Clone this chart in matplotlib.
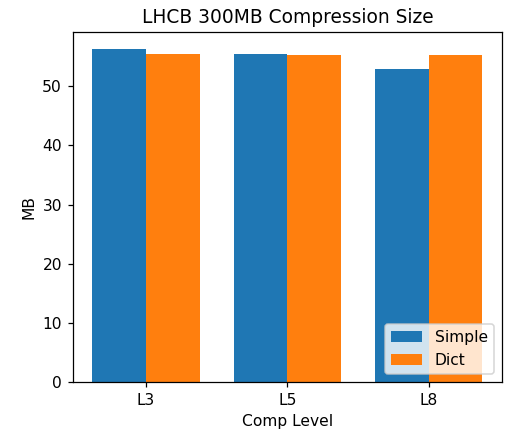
import matplotlib
matplotlib.use("Agg")
import matplotlib.pyplot as plt
import numpy as np

levels = ["L3", "L5", "L8"]
simple = [56.4, 55.4, 52.9]
dictv = [55.4, 55.25, 55.25]

dpi = 112
fig = plt.figure(figsize=(506/dpi, 431/dpi), dpi=dpi)
ax = fig.add_axes([0.144, 0.114, 0.848, 0.812])
x = np.arange(len(levels))
w = 0.38
ax.bar(x - w/2, simple, w, label="Simple", color="#1f77b4")
ax.bar(x + w/2, dictv, w, label="Dict", color="#ff7f0e")
ax.set_xticks(x)
ax.set_xticklabels(levels)
ax.set_xlabel("Comp Level")
ax.set_ylabel("MB")
ax.set_title("LHCB 300MB Compression Size", fontsize=12)
ax.legend(loc="lower right")
fig.savefig("out.png", dpi=dpi)
